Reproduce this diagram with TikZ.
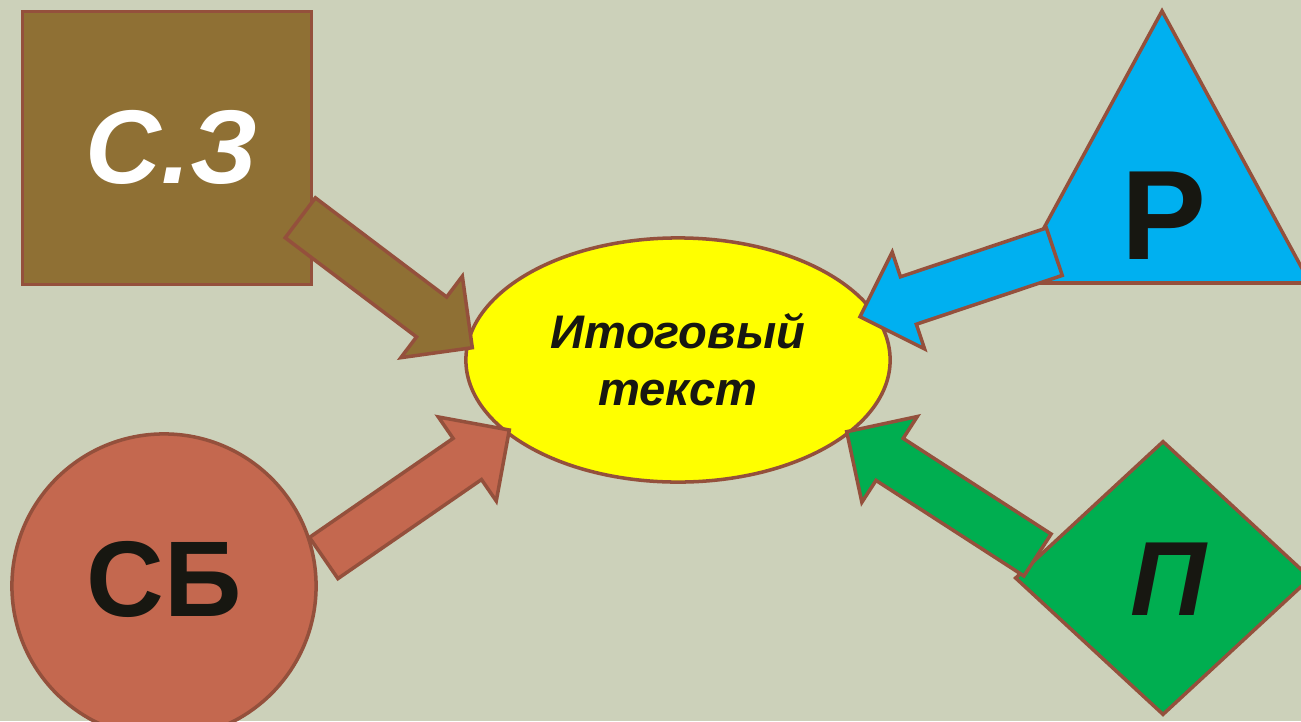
\documentclass[tikz,border=0pt]{standalone}
\usepackage{fontspec}
\setmainfont{Liberation Sans}
\usetikzlibrary{calc,shapes.geometric}

\definecolor{bgc}{HTML}{CCD1BA}
\definecolor{edge}{HTML}{94503C}
\definecolor{sqc}{HTML}{8F7034}
\definecolor{redc}{HTML}{C4684F}
\definecolor{bluec}{HTML}{00B0F0}
\definecolor{greenc}{HTML}{00AE50}
\definecolor{yelc}{HTML}{FFFF00}
\definecolor{ink}{HTML}{171711}

% block arrow: style, tail, tip
\newcommand{\blockarrow}[3]{%
  \path ($(#3)!0.51cm!(#2)$) coordinate (hb);
  \draw[#1] ($(#2)!0.25cm!90:(#3)$) -- ($(hb)!0.25cm!90:(#3)$) -- ($(hb)!0.51cm!90:(#3)$)
    -- (#3) -- ($(hb)!0.51cm!-90:(#3)$) -- ($(hb)!0.25cm!-90:(#3)$) -- ($(#2)!0.25cm!-90:(#3)$) -- cycle;
}

\begin{document}
\begin{tikzpicture}[
  x=0.01cm, y=-0.01cm,
  fig/.style={draw=edge, line width=1pt},
  big/.style={inner sep=0pt, text=ink, font=\bfseries\fontsize{#1}{#1}\selectfont},
  bigit/.style={inner sep=0pt, text=ink, font=\bfseries\itshape\fontsize{#1}{#1}\selectfont}
]
\fill[bgc] (0,0) rectangle (1301,721);
\useasboundingbox (0,0) rectangle (1301,721);
\clip (0,0) rectangle (1301,721);

% figures
\node[fig, fill=sqc, minimum width=2.89cm, minimum height=2.73cm] (sz) at (167,148) {};
\node[fig, fill=redc, circle, minimum size=3.04cm] (sb) at (164,586) {};
\draw[fig, fill=bluec] (1162,11) -- (1310,283) -- (1014,283) -- cycle;
\node[fig, fill=greenc, diamond, minimum width=2.96cm, minimum height=2.74cm] (p) at (1163,578) {};
\node[fig, fill=yelc, ellipse, minimum width=4.24cm, minimum height=2.44cm, align=center,
  text=ink, font=\bfseries\itshape\fontsize{13.4}{16.2}\selectfont] (itog) at (678,360) {Итоговый\\текст};

% labels
\node[bigit=29.8, text=white] (sz-t) at (172,147.5) {С.З};
\node[big=36.2] (r-t) at (1164,216) {Р};
\node[big=30.6] (sb-t) at (164.5,579) {СБ};
\node[bigit=30] (p-t) at (1168,579) {П};

% arrows
\coordinate (sz-out) at (300.3,217.8);
\coordinate (sz-in) at (472.3,347.7);
\coordinate (r-out) at (1054.3,251.7);
\coordinate (r-in) at (860,316.7);
\coordinate (sb-out) at (323.7,558);
\coordinate (sb-in) at (509.3,430);
\coordinate (p-out) at (1037.5,555);
\coordinate (p-in) at (846.7,431.7);

\blockarrow{fig, fill=sqc}{sz-out}{sz-in}
\blockarrow{fig, fill=bluec}{r-out}{r-in}
\blockarrow{fig, fill=redc}{sb-out}{sb-in}
\blockarrow{fig, fill=greenc}{p-out}{p-in}
\end{tikzpicture}
\end{document}
